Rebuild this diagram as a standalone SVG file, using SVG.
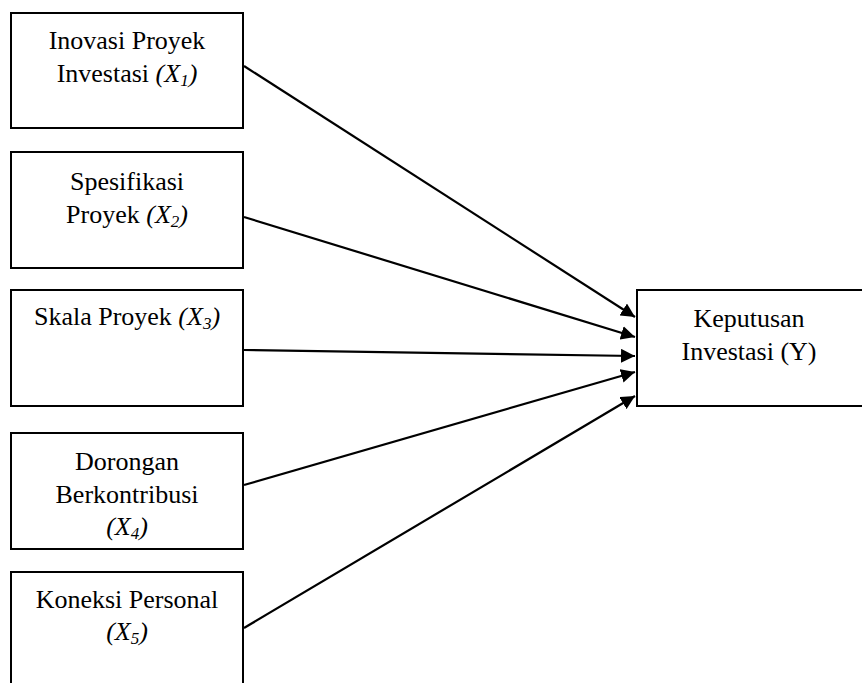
<svg xmlns="http://www.w3.org/2000/svg" width="862" height="683" viewBox="0 0 862 683">
<style>
.box{fill:#fff;stroke:#000;stroke-width:2}
.t{font-family:'Liberation Serif','Times New Roman',Tinos,'DejaVu Serif',serif;font-size:26px;fill:#000;text-anchor:middle}
.i{font-style:italic}
.s{font-size:17px}
.ln{stroke:#000;stroke-width:2.2;fill:none}
</style>
<defs>
<marker id="ah" viewBox="0 0 14 14" refX="14" refY="7" markerWidth="14" markerHeight="14" markerUnits="userSpaceOnUse" orient="auto">
<path d="M0,0 L14,7 L0,14 Z" fill="#000"/>
</marker>
</defs>
<rect width="862" height="683" fill="#fff"/>
<g id="x1">
<rect class="box" x="11" y="13" width="232" height="115"/>
<text class="t" font-family="Liberation Serif, serif" x="127" y="49">Inovasi Proyek</text>
<text class="t" font-family="Liberation Serif, serif" x="127" y="82">Investasi <tspan class="i">(X</tspan><tspan class="i s" dy="4">1</tspan><tspan class="i" dy="-4">)</tspan></text>
</g>
<g id="x2">
<rect class="box" x="11" y="152" width="232" height="116"/>
<text class="t" font-family="Liberation Serif, serif" x="127" y="190">Spesifikasi</text>
<text class="t" font-family="Liberation Serif, serif" x="127" y="223">Proyek <tspan class="i">(X</tspan><tspan class="i s" dy="4">2</tspan><tspan class="i" dy="-4">)</tspan></text>
</g>
<g id="x3">
<rect class="box" x="11" y="290" width="232" height="116"/>
<text class="t" font-family="Liberation Serif, serif" x="127" y="325">Skala Proyek <tspan class="i">(X</tspan><tspan class="i s" dy="4">3</tspan><tspan class="i" dy="-4">)</tspan></text>
</g>
<g id="x4">
<rect class="box" x="11" y="433" width="232" height="116"/>
<text class="t" font-family="Liberation Serif, serif" x="127" y="470">Dorongan</text>
<text class="t" font-family="Liberation Serif, serif" x="127" y="503">Berkontribusi</text>
<text class="t" font-family="Liberation Serif, serif" x="127" y="535"><tspan class="i">(X</tspan><tspan class="i s" dy="4">4</tspan><tspan class="i" dy="-4">)</tspan></text>
</g>
<g id="x5">
<rect class="box" x="11" y="572" width="232" height="130"/>
<text class="t" font-family="Liberation Serif, serif" x="127" y="608">Koneksi Personal</text>
<text class="t" font-family="Liberation Serif, serif" x="127" y="640"><tspan class="i">(X</tspan><tspan class="i s" dy="4">5</tspan><tspan class="i" dy="-4">)</tspan></text>
</g>
<g id="y">
<rect class="box" x="637" y="290" width="240" height="116"/>
<text class="t" font-family="Liberation Serif, serif" x="749" y="327">Keputusan</text>
<text class="t" font-family="Liberation Serif, serif" x="749" y="360">Investasi (Y)</text>
</g>
<g id="connectors">
<line class="ln" x1="244" y1="66" x2="635" y2="317" marker-end="url(#ah)"/>
<line class="ln" x1="244" y1="217" x2="635" y2="337" marker-end="url(#ah)"/>
<line class="ln" x1="244" y1="350" x2="635" y2="356" marker-end="url(#ah)"/>
<line class="ln" x1="244" y1="485" x2="635" y2="372" marker-end="url(#ah)"/>
<line class="ln" x1="244" y1="628" x2="635" y2="396" marker-end="url(#ah)"/>
</g>
</svg>
